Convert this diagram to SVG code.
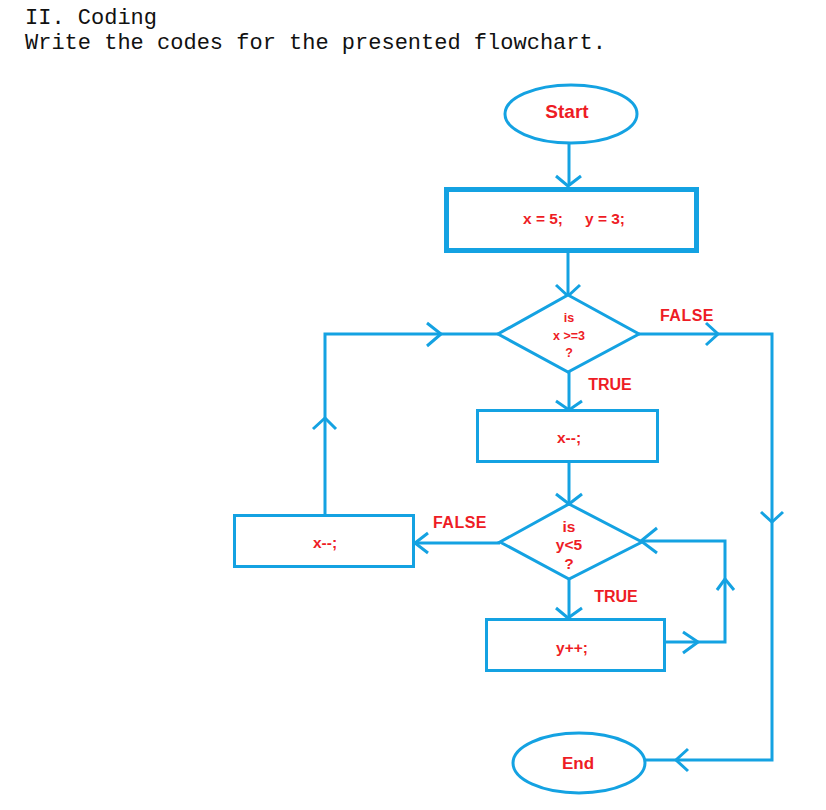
<svg xmlns="http://www.w3.org/2000/svg" width="826" height="810" viewBox="0 0 826 810">
<style>
.ln{fill:none;stroke:#14A2E2;stroke-width:3;stroke-linejoin:miter;stroke-linecap:butt}
.nd{fill:#fff;stroke:#14A2E2;stroke-width:3}
.thick{stroke-width:5}
.t{font-family:"Liberation Sans",Arial,sans-serif;fill:#EE1C25;text-anchor:middle;font-weight:bold}
.hd{font-family:"Liberation Mono","Courier New",monospace;font-size:22px;fill:#111}
</style>
<rect width="826" height="810" fill="#fff"/>
<text class="hd" x="25" y="24">II. Coding</text>
<text class="hd" x="25" y="49">Write the codes for the presented flowchart.</text>

<g id="connectors">
<path class="ln" d="M569,143 V186"/>
<path class="ln" d="M556,176 L568,186 L581,176"/>
<path class="ln" d="M568,252 V296"/>
<path class="ln" d="M556,285 L568,296 L580,285"/>
<path class="ln" d="M639,334 H772 V760 H645"/>
<path class="ln" d="M706,323 L718,334 L706,345"/>
<path class="ln" d="M761,512 L772,522 L783,512"/>
<path class="ln" d="M688,749 L676,760 L688,771"/>
<path class="ln" d="M569,372 V410"/>
<path class="ln" d="M556,401 L569,410 L582,401"/>
<path class="ln" d="M569,462 V504"/>
<path class="ln" d="M556,494 L569,504 L582,494"/>
<path class="ln" d="M500,543 H415"/>
<path class="ln" d="M428,533 L415,543 L428,553"/>
<path class="ln" d="M325,515 V334 H498"/>
<path class="ln" d="M313,429 L325,418 L336,429"/>
<path class="ln" d="M427,323 L441,334 L427,346"/>
<path class="ln" d="M569,579 V619"/>
<path class="ln" d="M556,608 L568,618 L582,608"/>
<path class="ln" d="M665,642 H725 V541 H641"/>
<path class="ln" d="M683,632 L698,642 L683,653"/>
<path class="ln" d="M717,590 L725,579 L734,590"/>
<path class="ln" d="M657,528 L641,541 L657,553"/>
</g>

<g id="start">
<ellipse class="nd" cx="571" cy="114" rx="66" ry="29"/>
<text class="t" x="567" y="118" font-size="19">Start</text>
</g>
<g id="init">
<rect class="nd thick" x="446.5" y="189.5" width="250" height="61"/>
<text class="t" y="224" font-size="15.5"><tspan x="543">x = 5;</tspan><tspan x="605">y = 3;</tspan></text>
</g>
<g id="cond1">
<polygon class="nd" points="568,295 639,334 568,372 498,334"/>
<text class="t" x="569" y="322" font-size="12.5">is</text>
<text class="t" x="569" y="340" font-size="12.5">x &gt;=3</text>
<text class="t" x="569" y="357" font-size="12.5">?</text>
</g>
<text class="t" x="687" y="321" font-size="16" letter-spacing="0.5">FALSE</text>
<text class="t" x="610" y="390" font-size="16">TRUE</text>
<g id="dec1">
<rect class="nd" x="477.5" y="410.5" width="180" height="51"/>
<text class="t" x="569" y="443" font-size="15.5">x--;</text>
</g>
<g id="cond2">
<polygon class="nd" points="569,504 642,542 569,579 500,542"/>
<text class="t" x="569" y="532" font-size="15.5">is</text>
<text class="t" x="569" y="550" font-size="15.5">y&lt;5</text>
<text class="t" x="569" y="569" font-size="15.5">?</text>
</g>
<text class="t" x="460" y="528" font-size="16" letter-spacing="0.5">FALSE</text>
<text class="t" x="616" y="602" font-size="16">TRUE</text>
<g id="dec2">
<rect class="nd" x="234.5" y="515.5" width="179" height="51"/>
<text class="t" x="325" y="548" font-size="15.5">x--;</text>
</g>
<g id="inc">
<rect class="nd" x="486.5" y="619.5" width="178" height="51"/>
<text class="t" x="572" y="653" font-size="15.5">y++;</text>
</g>
<g id="end">
<ellipse class="nd" cx="579" cy="763" rx="66" ry="30"/>
<text class="t" x="578" y="769" font-size="17">End</text>
</g>
</svg>
